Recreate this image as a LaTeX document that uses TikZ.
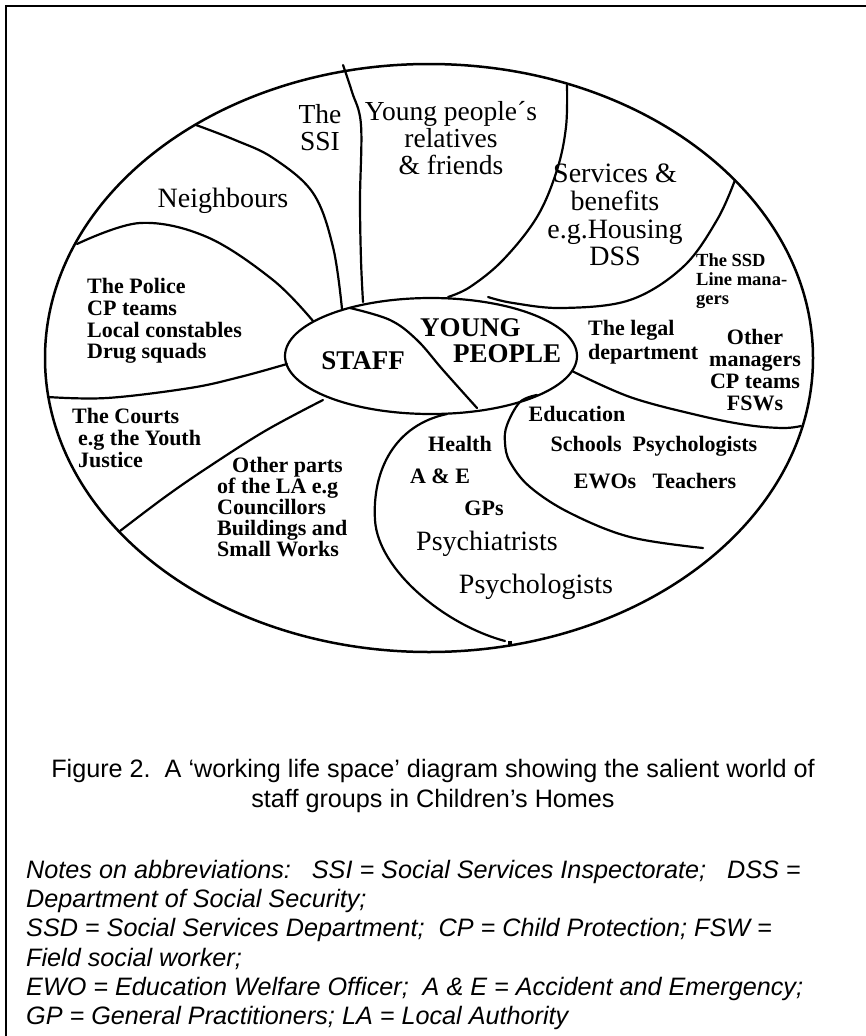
\documentclass[tikz,border=0pt]{standalone}
\usepackage{fontspec}
\setmainfont{Liberation Serif}
\newfontfamily\capfont{Liberation Sans}
\usetikzlibrary{shapes.geometric}

\tikzset{
  frameline/.style={line width=2.5pt, line cap=rect},
  divider/.style={line width=2.2pt, line cap=round, line join=round},
  rlab/.style={inner sep=0pt, align=center, font=\fontsize{27.5}{27}\selectfont},
  blab/.style={inner sep=0pt, align=left, font=\fontsize{22}{21.7}\selectfont\bfseries},
  big/.style={inner sep=0pt, align=left, font=\fontsize{27}{26}\selectfont\bfseries},
  captext/.style={inner sep=0pt, align=center, font=\capfont\fontsize{25.2}{30}\selectfont},
  notetext/.style={inner sep=0pt, align=left, font=\capfont\itshape\fontsize{25.2}{29.2}\selectfont},
}

\begin{document}
\begin{tikzpicture}[x=1pt, y=-1pt]
\useasboundingbox (0,0) rectangle (866,1036);

% page frame (top and left rules)
\coordinate (fTL) at (6,6);
\coordinate (fTR) at (866,6);
\coordinate (fBL) at (6,1036);
\draw[frameline] (fTR) -- (fTL) -- (fBL);

% the world around the home and its core
\node[draw, ellipse, line width=2.5pt, minimum width=768pt, minimum height=588pt,
      inner sep=0pt, outer sep=0pt] (world) at (429,358) {};
\node[draw, ellipse, line width=2.2pt, minimum width=292pt, minimum height=116pt,
      inner sep=0pt, outer sep=0pt] (core) at (431,356) {};

% end points of the dividing lines
\coordinate (ssiA) at (343,65);      \coordinate (ssiB) at (363,302);
\coordinate (neiA) at (196,125);     \coordinate (neiB) at (342,309);
\coordinate (polA) at (77,244);      \coordinate (polB) at (313,321);
\coordinate (crtA) at (48,397);      \coordinate (crtB) at (287,364);
\coordinate (othA) at (120,531);     \coordinate (othB) at (323,400);
\coordinate (stfA) at (350,308);     \coordinate (stfB) at (477,408);
\coordinate (hltA) at (447,414);     \coordinate (hltM) at (375,520);
\coordinate (hltB) at (505,641);
\coordinate (eduA) at (537,395);     \coordinate (eduB) at (703,548);
\coordinate (lglA) at (572,371);     \coordinate (lglB) at (801,426);
\coordinate (srvA) at (735,180);     \coordinate (srvB) at (488,297);
\coordinate (relA) at (567,85);      \coordinate (relB) at (448,297);

% dividing lines between the groups
\draw[divider] plot[smooth, tension=0.6] coordinates
  {(ssiA) (352,92) (361,125) (360,200) (361,260) (ssiB)};
\draw[divider] plot[smooth, tension=0.6] coordinates
  {(neiA) (235,140) (273,158) (313,193) (333,247) (neiB)};
\draw[divider] plot[smooth, tension=0.6] coordinates
  {(polA) (140,223) (207,237) (273,280) (polB)};
\draw[divider] plot[smooth, tension=0.6] coordinates
  {(crtA) (107,398) (190,388) (240,377) (crtB)};
\draw[divider] plot[smooth, tension=0.6] coordinates
  {(othA) (165,497) (207,468) (265,431) (othB)};
\draw[divider] plot[smooth, tension=0.6] coordinates
  {(stfA) (390,320) (417,340) (443,370) (stfB)};
\draw[divider] (hltA) .. controls (395,425) and (372,470) .. (hltM)
                      .. controls (378,570) and (445,625) .. (hltB);
\draw[divider] plot[smooth, tension=0.6] coordinates
  {(eduA) (520,402) (507,425) (505,443) (510,462) (530,487) (570,513) (630,537) (eduB)};
\draw[divider] plot[smooth, tension=0.6] coordinates
  {(lglA) (630,397) (697,415) (747,425) (783,428) (lglB)};
\draw[divider] plot[smooth, tension=0.6] coordinates
  {(srvA) (717,220) (683,267) (630,300) (563,308) (513,303) (srvB)};
\draw[divider] plot[smooth, tension=0.6] coordinates
  {(relA) (566,127) (557,170) (537,217) (503,260) (470,287) (relB)};
\fill (hltB) ++(3,0) rectangle ++(4,5);

% core labels
\node[big] (staff) at (363,361) {STAFF};
\node[big, anchor=west] (yp) at (420,341) {YOUNG\\\hspace*{33pt}PEOPLE};

% outer groups
\node[rlab] (ssi) at (320,128) {The\\SSI};
\node[rlab] (rel) at (451,138) {Young people´s\\relatives\\\& friends};
\node[rlab, font=\fontsize{28}{27.7}\selectfont] (srv) at (615,215) {Services \&\\benefits\\e.g.Housing\\DSS};
\node[rlab, font=\fontsize{28}{28}\selectfont] (nei) at (223,201) {Neighbours};
\node[blab, anchor=west] (pol) at (87,321) {The Police\\CP teams\\Local constables\\Drug squads};
\node[blab, anchor=west] (crt) at (72,438) {The Courts\\\hspace*{6pt}e.g the Youth\\\hspace*{6pt}Justice};
\node[blab, anchor=west, font=\fontsize{22}{21.2}\selectfont\bfseries] (oth) at (217,507)
  {\hspace*{15pt}Other parts\\of the LA e.g\\Councillors\\Buildings and\\Small Works};
\node[blab, anchor=west, font=\fontsize{18.5}{19}\selectfont\bfseries] (ssd) at (696,281)
  {The SSD\\Line mana-\\gers};
\node[blab, anchor=west, font=\fontsize{22}{24}\selectfont\bfseries] (lgl) at (588,342)
  {The legal\\department};
\node[blab, align=center, font=\fontsize{22}{22.3}\selectfont\bfseries] (mgr) at (755,370)
  {Other\\managers\\CP teams\\FSWs};
\node[blab] (edu) at (577,414) {Education};
\node[blab] (sch) at (654,446) {Schools\ \ Psychologists};
\node[blab] (ewo) at (655,481) {EWOs\ \ \ Teachers};
\node[blab] (hlt) at (460,444) {Health};
\node[blab] (ae) at (440,476) {A \& E};
\node[blab] (gp) at (484,508) {GPs};
\node[rlab, font=\fontsize{28}{28}\selectfont] (psy) at (487,544) {Psychiatrists};
\node[rlab, font=\fontsize{28}{28}\selectfont] (psl) at (536,587) {Psychologists};

% caption and notes
\node[captext] (cap) at (433,786)
  {Figure 2.\ \ A ‘working life space’ diagram showing the salient world of\\staff groups in Children’s Homes};
\node[notetext, anchor=north west] (notes) at (26,860)
  {Notes on abbreviations:\ \ \ SSI = Social Services Inspectorate;\ \ \ DSS =\\
   Department of Social Security;\\
   SSD = Social Services Department;\ \ CP = Child Protection; FSW =\\
   Field social worker;\\
   EWO = Education Welfare Officer;\ \ A \& E = Accident and Emergency;\\
   GP = General Practitioners; LA = Local Authority};
\end{tikzpicture}
\end{document}
